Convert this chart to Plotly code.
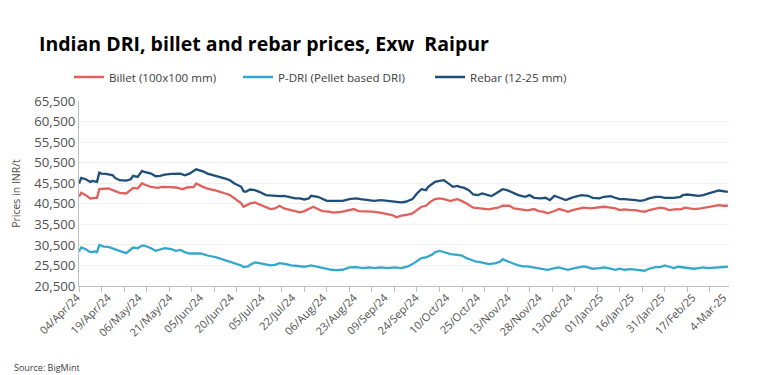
import plotly.graph_objects as go

# ---------------- data ----------------
title_text = "<b>Indian DRI, billet and rebar prices, Exw\u00a0\u00a0Raipur</b>"
y_title = "Prices in INR/t"
source_text = "Source: BigMint"

series_names = ["Billet (100x100 mm)", "P-DRI (Pellet based DRI)", "Rebar (12-25 mm)"]

x_tick_labels = ["04/Apr/24", "19/Apr/24", "06/May/24", "21/May/24", "05/Jun/24",
                 "20/Jun/24", "05/Jul/24", "22/Jul/24", "06/Aug/24", "23/Aug/24",
                 "09/Sep/24", "24/Sep/24", "10/Oct/24", "25/Oct/24", "13/Nov/24",
                 "28/Nov/24", "13/Dec/24", "01/Jan/25", "16/Jan/25", "31/Jan/25",
                 "17/Feb/25", "4-Mar-25"]

y_tick_values = [20500, 25500, 30500, 35500, 40500, 45500, 50500, 55500, 60500, 65500]

# trading-day index of each reading
billet_day = [0, 1, 3, 5, 7, 8, 9, 11, 13, 15, 18, 21, 22, 24, 26, 28, 29, 32, 35, 37,
              40, 43, 46, 48, 51, 52, 55, 57, 60, 63, 65, 67, 69, 72, 73, 74, 76, 78, 80, 83,
              85, 87, 89, 91, 94, 96, 98, 100, 103, 104, 106, 108, 111, 113, 117, 120, 122, 124, 127, 130,
              133, 136, 139, 141, 143, 145, 148, 150, 152, 154, 156, 158, 160, 162, 165, 166, 168, 170, 172, 175,
              177, 180, 182, 184, 186, 188, 191, 193, 195, 197, 199, 202, 204, 206, 208, 211, 213, 215, 217, 219,
              222, 224, 227, 229, 231, 233, 236, 238, 240, 242, 245, 247, 249, 251, 253, 256, 258, 260, 262, 265,
              267, 269, 271, 273, 276, 278, 280, 282, 284, 286, 288]
billet_price = [42200, 43170, 42600, 41800, 41960, 41960, 44050, 44210, 44210, 43810, 43170, 43000, 43410, 44370, 44210, 45500, 45180, 44620, 44370, 44620,
                44540, 44460, 44050, 44460, 44620, 45420, 44620, 44210, 43810, 43410, 43000, 42600, 41800, 40590, 39780, 40020, 40590, 40830, 40340, 39780,
                39220, 39380, 40020, 39380, 38970, 38570, 38410, 38730, 39380, 39780, 39220, 38730, 38570, 38330, 38570, 38970, 39220, 38730, 38730, 38570,
                38410, 38170, 37770, 37200, 37600, 37770, 38170, 38970, 39780, 40020, 40990, 41630, 41800, 41630, 41150, 41390, 41630, 41150, 40590, 39540,
                39380, 39220, 39140, 39380, 39540, 40020, 40020, 39380, 39220, 39140, 38890, 39220, 38730, 38570, 38170, 38730, 39220, 38970, 38570, 38970,
                39380, 39540, 39380, 39540, 39540, 39780, 39540, 39380, 38970, 39140, 38970, 38970, 38730, 38570, 38970, 39380, 39540, 39380, 38970, 39220,
                39140, 39540, 39380, 39220, 39380, 39540, 39780, 40020, 40180, 40020, 40020]

pdri_day = [0, 1, 3, 5, 7, 8, 9, 11, 13, 15, 18, 21, 23, 24, 26, 28, 29, 32, 34, 36,
            38, 41, 43, 45, 47, 49, 52, 54, 57, 58, 61, 63, 65, 67, 69, 72, 73, 75, 76, 78,
            80, 83, 85, 87, 89, 92, 94, 96, 98, 100, 103, 105, 107, 109, 112, 114, 117, 120, 123, 126,
            129, 131, 134, 137, 140, 143, 146, 148, 150, 152, 154, 157, 158, 160, 161, 163, 165, 168, 170, 172,
            174, 176, 178, 180, 182, 185, 187, 188, 191, 193, 195, 197, 199, 202, 204, 206, 208, 211, 213, 215,
            217, 219, 222, 224, 226, 228, 231, 233, 236, 238, 240, 242, 245, 247, 249, 251, 253, 256, 258, 260,
            262, 264, 266, 268, 270, 273, 275, 277, 279, 282, 284, 286, 288]
pdri_price = [28890, 29860, 29450, 28730, 28890, 28730, 30500, 30100, 30020, 29690, 29050, 28480, 29290, 29860, 29690, 30340, 30340, 29690, 29050, 29290,
              29690, 29450, 29050, 29290, 28730, 28400, 28480, 28400, 27920, 27840, 27440, 27110, 26790, 26470, 25990, 25500, 25100, 25260, 25660, 26230,
              26070, 25660, 25500, 25660, 26070, 25830, 25500, 25420, 25260, 25180, 25500, 25260, 25020, 24700, 24450, 24370, 24450, 25020, 25100, 24860,
              25020, 24860, 25020, 24860, 25020, 24860, 25260, 25830, 26470, 27280, 27440, 28240, 28730, 29050, 28890, 28480, 28240, 28080, 27920, 27280,
              26870, 26470, 26310, 26070, 25830, 26070, 26470, 27030, 26470, 25910, 25500, 25260, 25260, 25020, 24700, 24700, 24450, 24860, 25020, 24700,
              24450, 24700, 25020, 25260, 25020, 24700, 24860, 25020, 24700, 24450, 24700, 24450, 24620, 24450, 24370, 24210, 24700, 25100, 25100, 25500,
              25180, 24860, 25180, 25020, 24860, 24700, 24860, 25020, 24860, 25020, 25100, 25100, 25180]

rebar_day = [0, 1, 3, 5, 6, 8, 9, 10, 12, 15, 16, 18, 21, 23, 24, 26, 28, 29, 32, 34,
             36, 38, 41, 45, 47, 49, 52, 55, 57, 60, 63, 65, 67, 69, 72, 73, 74, 76, 78, 80,
             83, 86, 89, 91, 94, 96, 98, 100, 102, 103, 106, 108, 110, 112, 114, 117, 120, 123, 125, 128,
             131, 134, 137, 140, 143, 145, 148, 150, 152, 154, 155, 157, 158, 160, 162, 163, 165, 166, 168, 169,
             171, 173, 175, 177, 179, 181, 183, 185, 187, 188, 190, 192, 195, 198, 200, 202, 205, 207, 209, 211,
             214, 216, 218, 220, 223, 226, 228, 231, 233, 236, 238, 240, 242, 245, 247, 249, 251, 253, 256, 258,
             260, 262, 264, 267, 268, 270, 273, 275, 277, 279, 281, 284, 286, 288]
rebar_price = [45420, 46790, 46470, 45830, 46070, 45830, 48080, 47840, 47760, 47440, 46790, 46230, 46150, 46470, 47280, 47030, 48480, 48240, 47840, 47200,
               47280, 47600, 47760, 47840, 47440, 47840, 48890, 48400, 47840, 47440, 47030, 46630, 46230, 45420, 44620, 43570, 43410, 43970, 43810, 43410,
               42600, 42440, 42360, 42440, 41960, 41800, 41800, 41550, 41800, 42440, 42200, 41800, 41230, 41230, 41230, 41230, 41630, 41800, 41630, 41390,
               41230, 41390, 41150, 40990, 40830, 40990, 41630, 43000, 44050, 43810, 44620, 45420, 45830, 46070, 46230, 45830, 44860, 44620, 44860, 44620,
               44370, 43810, 42760, 42600, 43000, 42600, 42360, 43000, 43570, 44050, 43810, 43250, 42600, 42200, 42600, 41960, 41800, 41960, 41390, 42440,
               41800, 41390, 41800, 42200, 42600, 42440, 41960, 41800, 42200, 42360, 41960, 41630, 41630, 41550, 41390, 41230, 41390, 41800, 42200, 42200,
               41960, 41960, 41960, 42200, 42600, 42760, 42600, 42440, 42600, 43000, 43250, 43730, 43650, 43410]

# ---------------- styling ----------------
colors = ["#E0605C", "#33A8CC", "#1F4E79"]
FONT = "'Open Sans', Lato, sans-serif"
n_days = 288.5
label_first = 1.3
label_step = 13.66

fig = go.Figure()
all_x = [billet_day, pdri_day, rebar_day]
all_y = [billet_price, pdri_price, rebar_price]
legend_ids = ["legend", "legend2", "legend3"]
for name, xs, ys, col, lg in zip(series_names, all_x, all_y, colors, legend_ids):
    fig.add_trace(go.Scatter(x=xs, y=ys, name=name, mode="lines",
                             line=dict(color=col, width=2.3), legend=lg,
                             hoverinfo="skip"))

legend_px = [69, 238, 430]
leg_common = dict(orientation="h", xref="container", yref="container",
                  yanchor="middle", xanchor="left",
                  font=dict(family=FONT, size=11.6, color="#404040"),
                  bgcolor="rgba(0,0,0,0)", borderwidth=0)
fig.update_layout(
    legend=dict(x=legend_px[0] / 766, y=1 - 77 / 375, **leg_common),
    legend2=dict(x=legend_px[1] / 766, y=1 - 77 / 375, **leg_common),
    legend3=dict(x=legend_px[2] / 766, y=1 - 77 / 375, **leg_common),
)

tickvals = [label_first + k * label_step for k in range(len(x_tick_labels))]

fig.update_layout(
    template="none",
    width=766, height=375,
    margin=dict(l=79, r=37, t=101, b=89, autoexpand=False),
    paper_bgcolor="white", plot_bgcolor="white",
    font=dict(family=FONT, color="#595959"),
    title=dict(text=title_text, x=39 / 766, xanchor="left", xref="container",
               y=1 - 44 / 375, yanchor="middle", yref="container",
               font=dict(family=FONT, size=19.5, color="#000000")),
    showlegend=True,
    xaxis=dict(range=[0, n_days], tickmode="array", tickvals=tickvals,
               ticktext=x_tick_labels, tickangle=-45, ticks="", automargin=False,
               ticklabelshift=-5,
               tickfont=dict(family=FONT, size=11, color="#505050"),
               showline=True, linecolor="#BFBFBF", linewidth=1,
               showgrid=False, zeroline=False,
               minor=dict(tickmode="linear", tick0=0, dtick=10, ticks="outside",
                          ticklen=5, tickcolor="#BFBFBF", tickwidth=1, showgrid=False)),
    yaxis=dict(range=[20500, 65500], tickmode="array", tickvals=y_tick_values,
               tickformat=",", ticks="", automargin=False,
               tickfont=dict(family=FONT, size=13.2, color="#505050"),
               showline=True, linecolor="#BFBFBF", linewidth=1,
               showgrid=True, gridcolor="#F0F0F0", gridwidth=1, zeroline=False,
               title=dict(text=y_title, standoff=11,
                          font=dict(family=FONT, size=10.5, color="#505050"))),
)

fig.add_annotation(text=source_text, xref="paper", yref="paper",
                   x=(12 - 79) / 650, y=(286 - 367) / 185, xanchor="left", yanchor="middle",
                   showarrow=False, font=dict(family=FONT, size=9, color="#404040"))

fig.write_html("out.html", config={"displayModeBar": False},
               post_script="document.body.style.margin='0';")
